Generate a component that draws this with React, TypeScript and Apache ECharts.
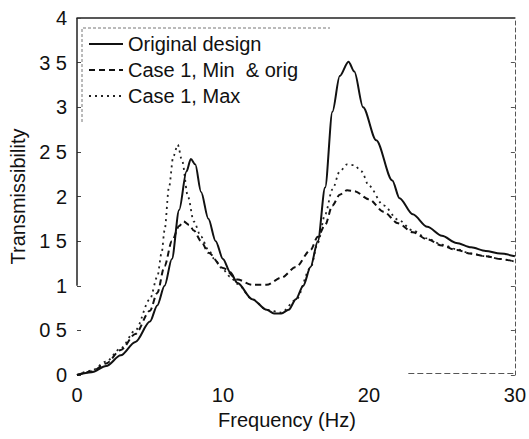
import React, { useEffect, useRef } from "react";
import * as echarts from "echarts";

const FONT = "'Liberation Sans', Arial, Helvetica, sans-serif";

const seriesNames = ["Original design", "Case 1, Min  & orig", "Case 1, Max"];

const freqOriginal = [0, 1, 2, 3, 4, 5, 5.5, 6, 6.5, 7, 7.5, 7.8, 8.1, 8.5, 9, 9.5, 10, 10.5, 11, 12, 13, 13.5, 14, 14.5, 15, 15.5, 16, 16.5, 17, 17.5, 18, 18.6, 19, 19.6, 20.5, 21.6, 22.1, 23, 24, 25, 26, 27, 28, 29, 30];
const tOriginal = [0, 0.03, 0.1, 0.22, 0.37, 0.6, 0.78, 1.0, 1.3, 1.85, 2.28, 2.42, 2.36, 2.05, 1.75, 1.5, 1.3, 1.15, 1.03, 0.85, 0.73, 0.69, 0.69, 0.73, 0.85, 1.0, 1.21, 1.5, 2.1, 2.95, 3.35, 3.51, 3.4, 3.0, 2.63, 2.18, 1.98, 1.8, 1.66, 1.56, 1.48, 1.43, 1.39, 1.36, 1.33];

const freqMin = [0, 1, 2, 3, 4, 5, 5.5, 6, 6.5, 7, 7.3, 7.7, 8, 8.5, 9, 10, 11, 12, 13, 14, 15, 16, 16.5, 17, 17.5, 18, 18.5, 19, 20, 21, 22, 23, 24, 25, 26, 27, 28, 29, 30];
const tMin = [0, 0.04, 0.13, 0.28, 0.46, 0.72, 0.92, 1.22, 1.5, 1.67, 1.72, 1.68, 1.62, 1.5, 1.37, 1.2, 1.07, 1.01, 1.01, 1.09, 1.21, 1.4, 1.55, 1.68, 1.9, 2.02, 2.07, 2.06, 1.97, 1.83, 1.7, 1.6, 1.52, 1.45, 1.4, 1.36, 1.33, 1.3, 1.27];

const freqMax = [0, 1, 2, 3, 4, 5, 5.5, 5.8, 6, 6.3, 6.6, 6.9, 7.2, 7.6, 8, 8.5, 9, 9.5, 10, 10.5, 11, 12, 13, 14, 15, 16, 16.5, 17, 17.5, 18, 18.5, 19, 19.5, 20, 21, 22, 23, 24, 25, 26, 27, 28, 29, 30];
const tMax = [0, 0.05, 0.15, 0.3, 0.5, 0.85, 1.1, 1.37, 1.62, 2.1, 2.45, 2.58, 2.4, 2.0, 1.72, 1.55, 1.4, 1.28, 1.18, 1.1, 1.02, 0.85, 0.73, 0.7, 0.84, 1.2, 1.48, 1.8, 2.08, 2.28, 2.36, 2.35, 2.28, 2.12, 1.9, 1.74, 1.62, 1.53, 1.46, 1.41, 1.36, 1.33, 1.3, 1.27];

const yTickLabels = ["0", "0 5", "1", "1 5", "2", "2 5", "3", "3 5", "4"];
const xTickLabels = ["0", "10", "20", "30"];

const pairs = (xs: number[], ys: number[]) => xs.map((x, i) => [x, ys[i]]);

export default function App() {
  const ref = useRef<HTMLDivElement>(null);
  useEffect(() => {
    if (!ref.current) return;
    const chart = echarts.init(ref.current, undefined, { renderer: "svg" });
    const ink = "#111";
    const lineCommon = {
      type: "line",
      showSymbol: false,
      symbol: "none",
      smooth: 0.3,
      smoothMonotone: "x",
      xAxisIndex: 0,
      yAxisIndex: 0,
    };
    chart.setOption({
      animation: false,
      backgroundColor: "#fff",
      textStyle: { fontFamily: FONT },
      grid: { left: 77, right: 14, top: 18, bottom: 64 },
      legend: {
        orient: "vertical",
        left: 88,
        top: 34,
        padding: 0,
        itemGap: 6,
        itemWidth: 34,
        itemHeight: 10,
        data: seriesNames,
        itemStyle: { opacity: 0, borderWidth: 0 },
        textStyle: { fontSize: 20, color: ink, fontFamily: FONT, lineHeight: 20 },
      },
      graphic: [
        {
          type: "polyline",
          silent: true,
          shape: { points: [[82, 122], [82, 28], [330, 28]] },
          style: { stroke: "#777", lineWidth: 1, lineDash: [3, 2], fill: null },
        },
      ],
      xAxis: [
        {
          type: "value",
          min: 0,
          max: 30,
          interval: 10,
          position: "bottom",
          name: "Frequency (Hz)",
          nameLocation: "middle",
          nameGap: 35,
          nameTextStyle: { fontSize: 20, color: ink, fontFamily: FONT, padding: [0, 18, 0, 0] },
          axisLine: { show: false },
          axisTick: { show: false },
          axisLabel: {
            fontSize: 20,
            color: ink,
            fontFamily: FONT,
            margin: 10,
            formatter: (v: number) => xTickLabels[Math.round(v / 10)] ?? "",
          },
          splitLine: { show: false },
        },
        {
          type: "value",
          min: 0,
          max: 30,
          interval: 10,
          position: "top",
          axisLine: { show: true, onZero: false, lineStyle: { color: "#222", width: 1.5 } },
          axisTick: { show: false },
          axisLabel: { show: false },
          splitLine: { show: false },
        },
      ],
      yAxis: [
        {
          type: "value",
          min: 0,
          max: 4,
          interval: 0.5,
          position: "left",
          name: "Transmissibility",
          nameLocation: "middle",
          nameGap: 42,
          nameTextStyle: { fontSize: 20, color: ink, fontFamily: FONT },
          axisLine: { show: false },
          axisTick: { show: true, inside: true, length: 4, lineStyle: { color: "#444" } },
          axisLabel: {
            fontSize: 20,
            color: ink,
            fontFamily: FONT,
            margin: 10,
            formatter: (v: number) => yTickLabels[Math.round(v / 0.5)] ?? "",
          },
          splitLine: { show: false },
        },
        {
          type: "value",
          min: 0,
          max: 4,
          interval: 0.5,
          position: "right",
          axisLine: { show: true, onZero: false, lineStyle: { color: "#555", type: [4, 3], width: 1 } },
          axisTick: { show: true, inside: true, length: 4, lineStyle: { color: "#555" } },
          axisLabel: { show: false },
          splitLine: { show: false },
        },
      ],
      series: [
        {
          ...lineCommon,
          name: seriesNames[0],
          data: pairs(freqOriginal, tOriginal),
          lineStyle: { color: ink, width: 2, type: "solid" },
          itemStyle: { color: ink },
          z: 3,
          markLine: {
            silent: true,
            symbol: ["none", "none"],
            label: { show: false },
            animation: false,
            data: [
              [
                { coord: [0, 1], lineStyle: { color: "#222", width: 1.5, type: "solid" } },
                { coord: [0, 4] },
              ],
              [
                { coord: [22.7, 0.02], lineStyle: { color: "#555", width: 1, type: [6, 3] } },
                { coord: [30, 0.02] },
              ],
            ],
          },
        },
        {
          ...lineCommon,
          name: seriesNames[1],
          data: pairs(freqMin, tMin),
          lineStyle: { color: ink, width: 2, type: [6, 4] },
          itemStyle: { color: ink },
          z: 2,
        },
        {
          ...lineCommon,
          name: seriesNames[2],
          data: pairs(freqMax, tMax),
          lineStyle: { color: "#222", width: 1.8, type: [2, 4] },
          itemStyle: { color: "#222" },
          z: 1,
        },
      ],
    });
    return () => chart.dispose();
  }, []);
  return (
    <div
      ref={ref}
      style={{ position: "fixed", left: 0, top: 0, width: 529, height: 439 }}
    />
  );
}
